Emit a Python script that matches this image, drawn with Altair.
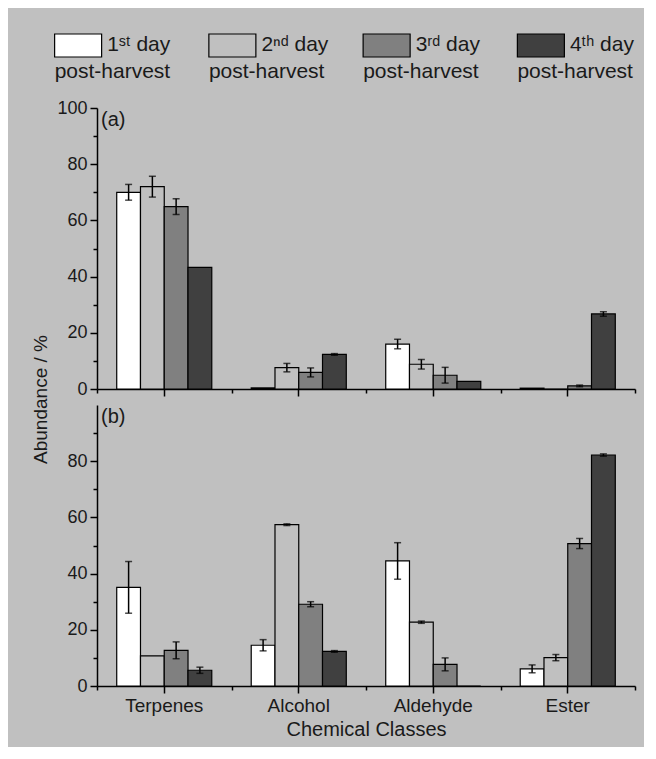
import altair as alt
import pandas as pd

categories = ["Terpenes", "Alcohol", "Aldehyde", "Ester"]
series = ["1st day post-harvest", "2nd day post-harvest",
          "3rd day post-harvest", "4th day post-harvest"]
legend_top = ["1ˢᵗ day", "2ⁿᵈ day", "3ʳᵈ day", "4ᵗʰ day"]
legend_bottom = ["post-harvest", "post-harvest", "post-harvest", "post-harvest"]
colors = ["#ffffff", "#c0c0c0", "#808080", "#404040"]

# panel (a): values per series, in category order
a_s1 = [70.0, 0.4, 16.0, 0.3]
a_s2 = [72.0, 7.6, 8.8, 0.0]
a_s3 = [64.9, 5.9, 4.9, 1.1]
a_s4 = [43.3, 12.3, 2.7, 26.7]
a_e1 = [2.8, 0.0, 1.7, 0.0]
a_e2 = [3.7, 1.5, 1.7, 0.0]
a_e3 = [2.8, 1.6, 2.8, 0.3]
a_e4 = [0.0, 0.3, 0.0, 0.8]

# panel (b)
b_s1 = [35.1, 14.5, 44.5, 6.1]
b_s2 = [10.7, 57.4, 22.7, 10.1]
b_s3 = [12.7, 29.1, 7.7, 50.7]
b_s4 = [5.6, 12.3, 0.0, 82.2]
b_e1 = [9.2, 2.0, 6.5, 1.4]
b_e2 = [0.0, 0.3, 0.4, 1.1]
b_e3 = [3.0, 0.9, 2.3, 1.8]
b_e4 = [1.1, 0.3, 0.0, 0.4]

TXT = "#1a1a1a"


def make_df(vals, errs):
    rows = []
    for s, v_list, e_list in zip(series, vals, errs):
        for c, v, e in zip(categories, v_list, e_list):
            rows.append({"category": c, "series": s, "value": v, "err": e,
                         "low": v - e, "high": v + e})
    return pd.DataFrame(rows)


df_a = make_df([a_s1, a_s2, a_s3, a_s4], [a_e1, a_e2, a_e3, a_e4])
df_b = make_df([b_s1, b_s2, b_s3, b_s4], [b_e1, b_e2, b_e3, b_e4])

color_scale = alt.Scale(domain=series, range=colors)


def panel(df, label, bottom):
    xscale = alt.Scale(domain=categories, paddingInner=0, paddingOuter=0)
    yscale = alt.Scale(domain=[0, 100], nice=False)
    xo = alt.XOffset("series:N", sort=series,
                     scale=alt.Scale(domain=series, paddingInner=0, paddingOuter=0.83))
    yvals = [0, 10, 20, 30, 40, 50, 60, 70, 80, 90, 100] if not bottom else [0, 10, 20, 30, 40, 50, 60, 70, 80, 90]
    yaxis = alt.Axis(
        values=yvals,
        labelExpr="datum.value % 20 === 0 ? datum.label : ''",
        tickSize={"condition": {"test": "datum.value % 20 === 0", "value": 7}, "value": 4},
        tickColor="black", tickWidth=1.5, domainColor="black", domainWidth=1.5,
        labelFontSize=18, labelColor=TXT, labelPadding=3, grid=False,
        title="Abundance / %" if bottom else None,
        titleFontSize=19, titleFontWeight="normal", titleColor=TXT,
        titleY=-6, titleX=-47, titleBaseline="bottom",
    )
    xaxis = alt.Axis(labels=bottom, ticks=True, tickSize=7, tickWidth=1.5,
                     tickColor="black", domainColor="black", domainWidth=1.5,
                     labelAngle=0, labelFontSize=19, labelColor=TXT, labelPadding=3,
                     title="Chemical Classes" if bottom else None,
                     titleFontSize=20, titleFontWeight="normal", titleColor=TXT,
                     titlePadding=4)
    xmain = alt.X("category:N", sort=categories, scale=xscale, axis=xaxis)
    yenc = alt.Y("value:Q", scale=yscale, axis=yaxis)

    bars = alt.Chart(df).mark_bar(stroke="black", strokeWidth=1.2).encode(
        x=xmain, xOffset=xo, y=yenc,
        color=alt.Color("series:N", scale=color_scale, legend=None),
    )
    err = df[df["err"] > 0]
    rules = alt.Chart(err).mark_rule(color="black", strokeWidth=1.5).encode(
        x=xmain, xOffset=xo,
        y=alt.Y("low:Q", scale=yscale, axis=yaxis), y2="high:Q")
    cap_hi = alt.Chart(err).mark_tick(orient="horizontal", size=7, thickness=1.5, color="black").encode(
        x=xmain, xOffset=xo, y=alt.Y("high:Q", scale=yscale, axis=yaxis))
    cap_lo = alt.Chart(err).mark_tick(orient="horizontal", size=7, thickness=1.5, color="black").encode(
        x=xmain, xOffset=xo, y=alt.Y("low:Q", scale=yscale, axis=yaxis))
    tag = alt.Chart(pd.DataFrame({"t": [label]})).mark_text(
        align="left", baseline="top", fontSize=20, color=TXT).encode(
        text="t:N", x=alt.value(4), y=alt.value(2))
    main = alt.layer(bars, rules, cap_hi, cap_lo, tag)

    minor = alt.Chart(df).mark_point(opacity=0).encode(
        x=alt.X("category:N", sort=categories,
                scale=alt.Scale(domain=categories, paddingInner=0, paddingOuter=0),
                axis=alt.Axis(orient="bottom", labels=False, domain=False, tickBand="extent",
                              tickSize=4, tickWidth=1.5, tickColor="black", title=None)),
        y=alt.Y("value:Q", scale=yscale, axis=yaxis),
    )
    return alt.layer(main, minor).resolve_scale(x="independent").properties(width=538, height=281)


lx = alt.X("series:N", sort=series,
           scale=alt.Scale(domain=series, range=[-96, 521], paddingInner=0, paddingOuter=0),
           axis=None)
leg_df = pd.DataFrame({"series": series, "top": legend_top, "bottom": legend_bottom})
sw = alt.Chart(leg_df).mark_bar(size=47, stroke="black", strokeWidth=1.2).encode(
    x=lx, y=alt.value(18), y2=alt.value(41),
    color=alt.Color("series:N", scale=color_scale, legend=None))
t1 = alt.Chart(leg_df).mark_text(align="left", baseline="middle", fontSize=21, dx=29, color=TXT).encode(
    x=lx, y=alt.value(29), text="top:N")
t2 = alt.Chart(leg_df).mark_text(align="left", baseline="middle", fontSize=21, dx=-23.5, color=TXT).encode(
    x=lx, y=alt.value(56), text="bottom:N")
legend = alt.layer(sw, t1, t2).properties(width=538, height=76)

chart = alt.vconcat(legend, panel(df_a, "(a)", False), panel(df_b, "(b)", True),
                    spacing=16, bounds="flush").properties(
    background="#c0c0c0",
    padding={"left": 23, "top": 8, "right": 8, "bottom": 8},
).configure(font="Liberation Sans").configure_view(stroke=None, strokeWidth=0)

chart.save("out.html", embed_options={"renderer": "svg", "actions": False})
